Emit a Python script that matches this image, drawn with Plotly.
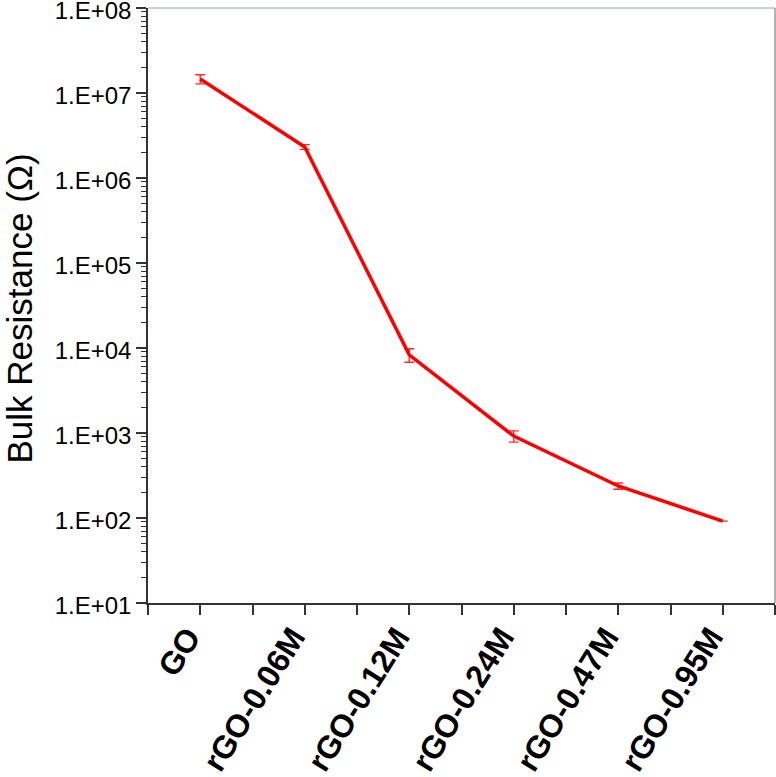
import plotly.graph_objects as go

categories = ["GO", "rGO-0.06M", "rGO-0.12M", "rGO-0.24M", "rGO-0.47M", "rGO-0.95M"]
resistance = [1.46e7, 2.32e6, 8.3e3, 9.2e2, 2.38e2, 9.2e1]
errors = [1.8e6, 1.5e5, 1.5e3, 1.4e2, 2.0e1, 0]
y_tick_vals = [1e1, 1e2, 1e3, 1e4, 1e5, 1e6, 1e7, 1e8]
y_tick_text = ["1.E+01", "1.E+02", "1.E+03", "1.E+04", "1.E+05", "1.E+06", "1.E+07", "1.E+08"]
y_title = "Bulk Resistance (Ω)"

x_pos = list(range(1, len(categories) + 1))
x_tick_vals = [0.5 + 0.5 * i for i in range(2 * len(categories) + 1)]
x_tick_text = []
for v in x_tick_vals:
    if abs(v - round(v)) < 1e-9:
        x_tick_text.append(categories[int(round(v)) - 1])
    else:
        x_tick_text.append("")

fig = go.Figure()
fig.add_trace(go.Scatter(
    x=x_pos, y=resistance, mode="lines",
    line=dict(color="#ff0000", width=3.5),
    error_y=dict(type="data", array=errors, visible=True, color="#ff2a2a", thickness=1.4, width=5),
    showlegend=False, hoverinfo="skip",
))

fig.update_layout(
    width=776, height=777,
    margin=dict(l=148, r=1, t=8, b=174, autoexpand=False),
    paper_bgcolor="white", plot_bgcolor="white",
    font=dict(family="Liberation Sans, Arial, sans-serif", color="black"),
    xaxis=dict(
        range=[0.5, 6.5], tickmode="array", tickvals=x_tick_vals, ticktext=x_tick_text,
        ticks="outside", ticklen=10, tickwidth=1.5, tickcolor="#333",
        showline=True, linecolor="#333", linewidth=1.5, showgrid=False, zeroline=False,
        tickangle=-58, automargin=False, ticklabeloverflow="allow",
        tickfont=dict(size=32, family="Liberation Sans, Arial, sans-serif", weight="bold"),
    ),
    yaxis=dict(
        type="log", range=[1, 8], tickmode="array", tickvals=y_tick_vals, ticktext=y_tick_text,
        ticks="outside", ticklen=10, tickwidth=1.5, tickcolor="#333",
        showline=True, linecolor="#333", linewidth=1.5, showgrid=False, zeroline=False,
        tickfont=dict(size=24), automargin=False, ticklabeloverflow="allow",
        minor=dict(ticks="outside", ticklen=5, tickcolor="#333", tickwidth=1, dtick="D1", showgrid=False),
    ),
    annotations=[
        dict(text=y_title, xref="paper", yref="paper", x=-(148 - 19) / 627, y=0.495,
             textangle=-90, showarrow=False, font=dict(size=35), xanchor="center", yanchor="middle"),
    ],
    shapes=[
        dict(type="line", xref="paper", yref="paper", x0=0, x1=1, y0=1, y1=1,
             line=dict(color="#8aa", width=1)),
        dict(type="line", xref="paper", yref="paper", x0=1, x1=1, y0=0, y1=1,
             line=dict(color="#999", width=1.5)),
    ],
)

try:
    fig.update_xaxes(ticklabelshift=-12)
except Exception:
    pass
try:
    fig.update_xaxes(ticklabelstandoff=-9)
except Exception:
    pass
try:
    fig.update_yaxes(ticklabelshift=3)
except Exception:
    pass

fig.write_html("out.html", config={"displayModeBar": False},
               post_script="document.body.style.margin='0px';document.body.style.overflow='hidden';")
